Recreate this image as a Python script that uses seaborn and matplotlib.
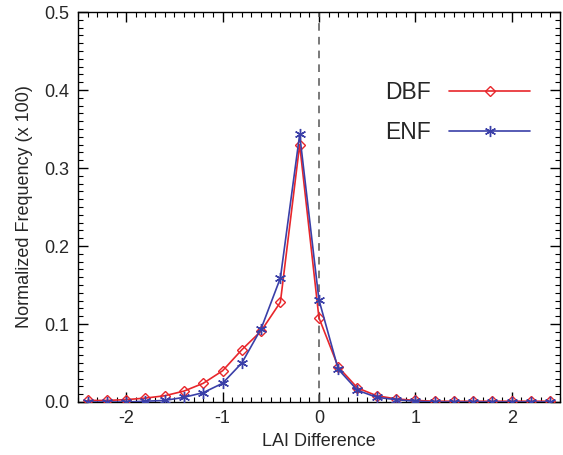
import matplotlib
matplotlib.use("Agg")
import matplotlib.pyplot as plt
import seaborn as sns
import numpy as np
import pandas as pd
from matplotlib.ticker import MultipleLocator

lai_diff = [-2.4, -2.2, -2.0, -1.8, -1.6, -1.4, -1.2, -1.0, -0.8, -0.6, -0.4, -0.2,
            0.0, 0.2, 0.4, 0.6, 0.8, 1.0, 1.2, 1.4, 1.6, 1.8, 2.0, 2.2, 2.4]
dbf = [0.002, 0.002, 0.003, 0.005, 0.008, 0.014, 0.024, 0.040, 0.067, 0.091, 0.128, 0.330,
       0.108, 0.045, 0.018, 0.008, 0.004, 0.002, 0.001, 0.001, 0.001, 0.001, 0.001, 0.001, 0.001]
enf = [0.000, 0.000, 0.000, 0.001, 0.002, 0.006, 0.012, 0.024, 0.050, 0.094, 0.159, 0.343,
       0.131, 0.042, 0.015, 0.006, 0.003, 0.001, 0.000, 0.000, 0.000, 0.000, 0.000, 0.000, 0.000]
series_names = ["DBF", "ENF"]

df = pd.concat([
    pd.DataFrame({"x": lai_diff, "y": dbf, "type": "DBF"}),
    pd.DataFrame({"x": lai_diff, "y": enf, "type": "ENF"}),
])

sns.set_theme(style="ticks")
plt.rcParams['font.family'] = ['Liberation Sans', 'DejaVu Sans']

fig = plt.figure(figsize=(5.63, 4.55), dpi=100)
ax = fig.add_axes([0.1385, 0.1165, 0.856, 0.857])

ax.axvline(0, color="#555555", linestyle=(0, (5, 4)), linewidth=1.1, zorder=1)

colors = {"DBF": "#e8262b", "ENF": "#3a3fa8"}
markers = {"DBF": "D", "ENF": (6, 2, 0)}
for name in series_names:
    sub = df[df["type"] == name]
    sns.lineplot(data=sub, x="x", y="y", ax=ax, color=colors[name], linewidth=1.2,
                 marker=markers[name], markersize=5 if name == "DBF" else 8,
                 markerfacecolor="none" if name == "DBF" else colors[name],
                 markeredgecolor=colors[name], markeredgewidth=1.0,
                 label=name, zorder=3)

ax.set_xlim(-2.5, 2.5)
ax.set_ylim(0, 0.5)
ax.xaxis.set_major_locator(MultipleLocator(1))
ax.xaxis.set_minor_locator(MultipleLocator(0.1))
ax.yaxis.set_major_locator(MultipleLocator(0.1))
ax.yaxis.set_minor_locator(MultipleLocator(0.01))
ax.set_yticklabels([f"{v:.1f}" for v in ax.get_yticks()])
ax.set_xticks([-2, -1, 0, 1, 2])
ax.set_xticklabels(["-2", "-1", "0", "1", "2"])
ax.tick_params(which="both", direction="in", top=True, right=True, color="black")
ax.tick_params(which="major", length=7, width=1, labelsize=13, pad=6)
ax.tick_params(which="minor", length=3.5, width=0.8)
for s in ax.spines.values():
    s.set_color("black")
    s.set_linewidth(1)

ax.set_xlabel("LAI Difference", fontsize=13)
ax.set_ylabel("Normalized Frequency (x 100)", fontsize=13, labelpad=8)

leg = ax.legend(loc="upper right", bbox_to_anchor=(0.98, 0.875), markerfirst=False,
                frameon=False, fontsize=16.5, handlelength=3.5, labelspacing=0.72,
                handletextpad=0.8)

fig.savefig("out.png", dpi=100)
